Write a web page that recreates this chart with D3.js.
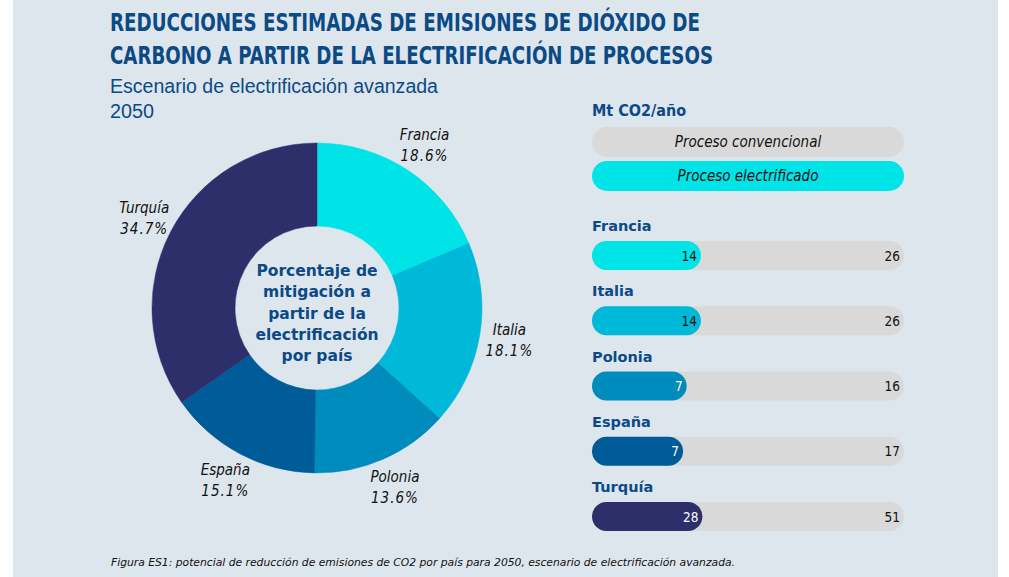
<!DOCTYPE html>
<html><head><meta charset="utf-8">
<script src="https://cdn.jsdelivr.net/npm/d3@7"></script>
<style>html,body{margin:0;padding:0;background:#fff;}svg{display:block;}</style>
</head><body>
<svg id="c" width="1009" height="577"></svg>
<script>
const countries = ["Francia", "Italia", "Polonia", "España", "Turquía"];
const mitigationShare = [18.6, 18.1, 13.6, 15.1, 34.7];
const electrified = [14, 14, 7, 7, 28];
const conventional = [26, 26, 16, 17, 51];
const colors = ["#00e4e8", "#00b8d8", "#008bbd", "#005c99", "#2d2f6b"];
const valueTextColors = ["#111", "#111", "#fff", "#fff", "#fff"];
const titleLines = ["REDUCCIONES ESTIMADAS DE EMISIONES DE DIÓXIDO DE", "CARBONO A PARTIR DE LA ELECTRIFICACIÓN DE PROCESOS"];
const subtitleLines = ["Escenario de electrificación avanzada", "2050"];
const centerLines = ["Porcentaje de", "mitigación a", "partir de la", "electrificación", "por país"];
const unitLabel = "Mt CO2/año";
const legendLabels = ["Proceso convencional", "Proceso electrificado"];
const footnote = "Figura ES1: potencial de reducción de emisiones de CO2 por país para 2050, escenario de electrificación avanzada.";

const svg = d3.select("#c");
const navy = "#0b4a85";
svg.append("rect").attr("x", 13).attr("y", 0).attr("width", 985).attr("height", 577).attr("fill", "#dde5ed");

// Titles
const titleW = [590, 603];
titleLines.forEach((t, i) => {
  svg.append("text").attr("x", 110).attr("y", 31 + i * 33)
    .attr("font-family", "'DejaVu Sans Condensed', 'DejaVu Sans', sans-serif").attr("font-weight", "bold")
    .attr("font-size", 25).attr("fill", navy)
    .attr("textLength", titleW[i]).attr("lengthAdjust", "spacingAndGlyphs").text(t);
});
const subW = [328, 44];
subtitleLines.forEach((t, i) => {
  svg.append("text").attr("x", 110).attr("y", 93 + i * 25)
    .attr("font-family", "'Liberation Sans Narrow', 'Liberation Sans', sans-serif")
    .attr("font-size", 20).attr("fill", navy)
    .attr("textLength", subW[i]).attr("lengthAdjust", "spacingAndGlyphs").text(t);
});

// Donut
const cx = 317, cy = 308, rOuter = 165, rInner = 82, rLabel = 195;
const pie = d3.pie().sort(null).value(d => d.v);
const data = countries.map((c, i) => ({ c, v: mitigationShare[i], col: colors[i] }));
const arcs = pie(data);
const arc = d3.arc().innerRadius(rInner).outerRadius(rOuter);
const labelArc = d3.arc().innerRadius(rLabel).outerRadius(rLabel);
const g = svg.append("g").attr("transform", `translate(${cx},${cy})`);
g.selectAll("path").data(arcs).join("path").attr("d", arc)
  .attr("fill", d => d.data.col).attr("stroke", d => d.data.col).attr("stroke-width", 0.5);
const lab = g.selectAll("g.lab").data(arcs).join("g").attr("class", "lab")
  .attr("transform", d => `translate(${labelArc.centroid(d)})`);
lab.append("text").attr("y", -5).attr("text-anchor", "middle")
  .attr("font-family", "'DejaVu Sans Condensed', 'DejaVu Sans', sans-serif").attr("font-style", "italic").attr("font-size", 15)
  .attr("fill", "#111").text(d => d.data.c);
lab.append("text").attr("y", 16).attr("text-anchor", "middle")
  .attr("font-family", "'DejaVu Sans Condensed', 'DejaVu Sans', sans-serif").attr("font-style", "italic").attr("font-size", 15)
  .attr("letter-spacing", 1).attr("fill", "#111").text(d => d.data.v.toFixed(1) + "%");
centerLines.forEach((t, i) => {
  g.append("text").attr("y", -32 + i * 21.3).attr("text-anchor", "middle")
    .attr("font-family", "'DejaVu Sans', sans-serif").attr("font-weight", "bold").attr("font-size", 15.5)
    .attr("fill", navy).text(t);
});

// Right panel
const x0 = 592, x1 = 904, barH = 29;
svg.append("text").attr("x", x0).attr("y", 116)
  .attr("font-family", "'DejaVu Sans Condensed', 'DejaVu Sans', sans-serif").attr("font-weight", "bold")
  .attr("font-size", 16).attr("fill", navy).text(unitLabel);
const legendFill = ["#d9d9d9", colors[0]];
legendLabels.forEach((t, i) => {
  const y = 127 + i * 34;
  svg.append("rect").attr("x", x0).attr("y", y).attr("width", x1 - x0).attr("height", 30)
    .attr("rx", 15).attr("fill", legendFill[i]);
  svg.append("text").attr("x", (x0 + x1) / 2).attr("y", y + 20).attr("text-anchor", "middle")
    .attr("font-family", "'DejaVu Sans Condensed', 'DejaVu Sans', sans-serif").attr("font-style", "italic").attr("font-size", 15)
    .attr("fill", "#111").text(t);
});

const rowY = d3.scalePoint().domain(countries).range([241, 502]);
const shareScale = d3.scaleLinear().domain([0, 1]).range([33, 174]);
const rows = svg.selectAll("g.row").data(countries.map((c, i) => ({ c, e: electrified[i], v: conventional[i], col: colors[i], tc: valueTextColors[i] })))
  .join("g").attr("class", "row").attr("transform", d => `translate(0,${rowY(d.c)})`);
rows.append("text").attr("x", x0).attr("y", -10)
  .attr("font-family", "'DejaVu Sans', sans-serif").attr("font-weight", "bold").attr("font-size", 14.5)
  .attr("fill", navy).text(d => d.c);
rows.append("rect").attr("x", x0).attr("y", 0).attr("width", x1 - x0).attr("height", barH)
  .attr("rx", barH / 2).attr("fill", "#d9d9d9");
rows.append("rect").attr("x", x0).attr("y", 0).attr("width", d => shareScale(d.e / d.v)).attr("height", barH)
  .attr("rx", barH / 2).attr("fill", d => d.col);
rows.append("text").attr("x", d => x0 + shareScale(d.e / d.v) - 4).attr("y", barH / 2 + 5)
  .attr("text-anchor", "end").attr("font-family", "'DejaVu Sans Condensed', 'DejaVu Sans', sans-serif").attr("font-size", 13.5)
  .attr("fill", d => d.tc).text(d => d.e);
rows.append("text").attr("x", x1 - 4).attr("y", barH / 2 + 5)
  .attr("text-anchor", "end").attr("font-family", "'DejaVu Sans Condensed', 'DejaVu Sans', sans-serif").attr("font-size", 13.5)
  .attr("fill", "#111").text(d => d.v);

// Footnote
svg.append("text").attr("x", 111).attr("y", 566)
  .attr("font-family", "'DejaVu Sans Condensed', 'DejaVu Sans', sans-serif").attr("font-style", "italic")
  .attr("font-size", 11).attr("fill", "#111")
  .attr("textLength", 624).attr("lengthAdjust", "spacingAndGlyphs").text(footnote);
</script>
</body></html>
